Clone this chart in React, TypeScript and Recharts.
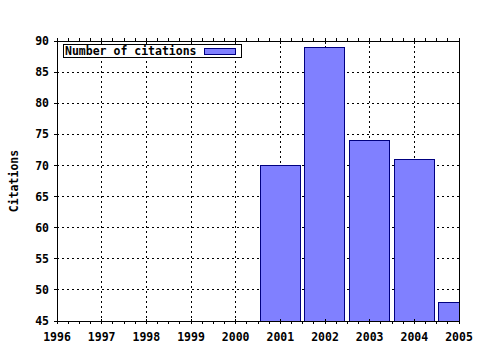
import { BarChart, Bar, XAxis, YAxis, CartesianGrid, Legend, ReferenceLine } from "recharts"

const years = [1996, 1997, 1998, 1999, 2000, 2001, 2002, 2003, 2004, 2005]
const citations = [null, null, null, null, null, 70, 89, 74, 71, 48]
const yTicks = [45, 50, 55, 60, 65, 70, 75, 80, 85, 90]
const seriesName = "Number of citations"
const axisTitle = "Citations"

const data = years.map((year, i) => ({ year, citations: citations[i] }))
const lastYear = years[years.length - 1]
// quarter-year minor ticks on the top and bottom edges
const minorTicks = years.flatMap((y) => [y, y + 0.25, y + 0.5, y + 0.75]).filter((t) => t <= lastYear)

const font = {
  fontFamily: "'DejaVu Sans Mono', monospace",
  fontWeight: "bold" as const,
  fontSize: 11.5,
  fill: "#000",
}

function BottomTick(props: any) {
  const { x, y, payload } = props
  const major = Number.isInteger(payload.value)
  return (
    <g>
      <line x1={x} x2={x} y1={major ? y - 2 : y} y2={y + 3} stroke="#000" />
      {major && (
        <text x={x} y={y + 16} dy="0.355em" textAnchor="middle" style={font}>
          {payload.value}
        </text>
      )}
    </g>
  )
}

function TopTick(props: any) {
  const { x, y, payload } = props
  const major = Number.isInteger(payload.value)
  return <line x1={x} x2={x} y1={y - 3} y2={major ? y + 3 : y} stroke="#000" />
}

function YTitle(props: any) {
  const { viewBox } = props
  const cx = viewBox.x + 14
  const cy = viewBox.y + viewBox.height / 2
  return (
    <text x={cx} y={cy} dy="0.355em" textAnchor="middle" transform={`rotate(-90 ${cx} ${cy})`} style={font}>
      {axisTitle}
    </text>
  )
}

function LegendBox({ payload }: any) {
  return (
    <div
      style={{
        display: "flex",
        alignItems: "center",
        border: "1px solid #000",
        background: "#fff",
        height: 12,
        padding: "0 5px 0 1px",
        fontFamily: font.fontFamily,
        fontWeight: "bold",
        fontSize: font.fontSize,
        lineHeight: "12px",
        color: "#000",
        whiteSpace: "nowrap",
      }}
    >
      {(payload || []).map((entry: any) => (
        <span key={entry.value} style={{ display: "flex", alignItems: "center" }}>
          <span>{entry.value}</span>
          <span
            style={{
              display: "inline-block",
              width: 30,
              height: 5,
              marginLeft: 7,
              background: "#8080ff",
              border: "1px solid #000080",
            }}
          />
        </span>
      ))}
    </div>
  )
}

export default function App() {
  return (
    <div style={{ position: "absolute", left: 0, top: 0, background: "#fff" }}>
      <BarChart
        width={480}
        height={350}
        data={data}
        margin={{ top: 11, right: 21, bottom: 0, left: 0 }}
        style={{ shapeRendering: "crispEdges" }}
      >
        <CartesianGrid xAxisId="grid" stroke="#000" strokeDasharray="2 3" />
        <XAxis
          dataKey="year"
          type="number"
          domain={[years[0], lastYear]}
          ticks={minorTicks}
          interval={0}
          allowDataOverflow
          height={29}
          tickSize={0}
          tickMargin={0}
          tickLine={false}
          tick={BottomTick}
          axisLine={{ stroke: "#000" }}
        />
        <XAxis
          xAxisId="top"
          orientation="top"
          dataKey="year"
          type="number"
          domain={[years[0], lastYear]}
          ticks={minorTicks}
          interval={0}
          height={30}
          tickSize={0}
          tickMargin={0}
          tickLine={false}
          tick={TopTick}
          axisLine={{ stroke: "#000" }}
        />
        <XAxis xAxisId="grid" dataKey="year" type="number" domain={[years[0], lastYear]} ticks={years} hide />
        <YAxis
          type="number"
          domain={[yTicks[0], yTicks[yTicks.length - 1]]}
          ticks={yTicks}
          interval={0}
          width={57}
          tickSize={3}
          tickMargin={5}
          tick={font}
          tickLine={{ stroke: "#000" }}
          axisLine={{ stroke: "#000" }}
          label={YTitle}
        />
        <ReferenceLine x={lastYear} stroke="#000" />
        <Legend
          verticalAlign="middle"
          align="center"
          content={LegendBox}
          wrapperStyle={{ position: "absolute", top: 44, left: 63, width: "auto", height: "auto" }}
        />
        <Bar
          dataKey="citations"
          name={seriesName}
          fill="#8080ff"
          stroke="#000080"
          barSize={40}
          isAnimationActive={false}
        />
      </BarChart>
    </div>
  )
}
